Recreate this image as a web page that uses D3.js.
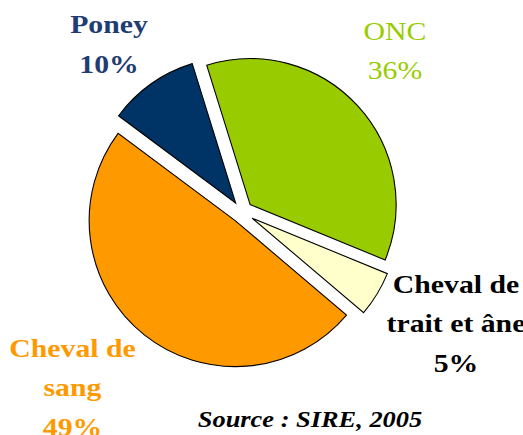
<!DOCTYPE html>
<html>
<head>
<meta charset="utf-8">
<script src="https://cdn.jsdelivr.net/npm/d3@7"></script>
</head>
<body style="margin:0">
<script>
// categories and shares (%), clockwise from ONC
const categories = ["ONC", "Cheval de trait et âne", "Cheval de sang", "Poney"];
const shares = [36, 5, 49, 10];
const sliceColors = ["#99cc00", "#ffffcc", "#ff9900", "#003366"];
const labelColors = ["#99cc00", "#000000", "#ff9900", "#1f3d73"];
const labelLines = [["ONC"], ["Cheval de", "trait et âne"], ["Cheval de", "sang"], ["Poney"]];
const sourceText = "Source : SIRE, 2005";

const width = 523, height = 435;
const cx = 242, cy = 212, radius = 146;
const explode = [11, 12, 11, 11];
const startDeg = -17.3;

// label anchors (centre x, first baseline)
const labelPos = [
  { x: 395, y: 39.5, weight: "normal" },
  { x: 456, y: 292.5, weight: "bold" },
  { x: 72.5, y: 356.5, weight: "bold" },
  { x: 109, y: 33, weight: "bold" }
];
const lineGap = 39.8;
const stretch = 1.19;

const svg = d3.select("body").append("svg")
    .attr("width", width)
    .attr("height", height);

const start = startDeg * Math.PI / 180;
const pie = d3.pie()
    .sort(null)
    .value(d => d)
    .startAngle(start)
    .endAngle(start + 2 * Math.PI);

const arcs = pie(shares);

const arc = d3.arc()
    .innerRadius(0)
    .outerRadius(radius);

const pieGroup = svg.append("g")
    .attr("transform", `translate(${cx},${cy})`);

pieGroup.selectAll("path")
    .data(arcs)
    .join("path")
    .attr("transform", (d, i) => {
        const mid = (d.startAngle + d.endAngle) / 2;
        return `translate(${Math.sin(mid) * explode[i]},${-Math.cos(mid) * explode[i]})`;
    })
    .attr("d", arc)
    .attr("fill", (d, i) => sliceColors[i])
    .attr("stroke", "#000")
    .attr("stroke-width", 1.1)
    .attr("stroke-linejoin", "miter");

// widen a text horizontally, the source picture is stretched
function widen(sel, k) {
    sel.each(function () {
        const w = this.getComputedTextLength();
        d3.select(this)
            .attr("textLength", w * k)
            .attr("lengthAdjust", "spacingAndGlyphs");
    });
}

// labels: name lines then the percentage
categories.forEach((c, i) => {
    const lines = [...labelLines[i], `${shares[i]}%`];
    const p = labelPos[i];
    lines.forEach((t, j) => {
        svg.append("text")
            .attr("x", p.x)
            .attr("y", p.y + j * lineGap)
            .attr("text-anchor", "middle")
            .style("font-family", "'Liberation Serif'")
            .style("font-size", "25px")
            .style("font-weight", p.weight)
            .style("fill", labelColors[i])
            .text(t)
            .call(widen, stretch);
    });
});

svg.append("text")
    .attr("x", 310)
    .attr("y", 427)
    .attr("text-anchor", "middle")
    .style("font-family", "'Liberation Serif'")
    .style("font-size", "24px")
    .style("font-weight", "bold")
    .style("font-style", "italic")
    .style("fill", "#000")
    .text(sourceText)
    .call(widen, 1.1);
</script>
</body>
</html>
